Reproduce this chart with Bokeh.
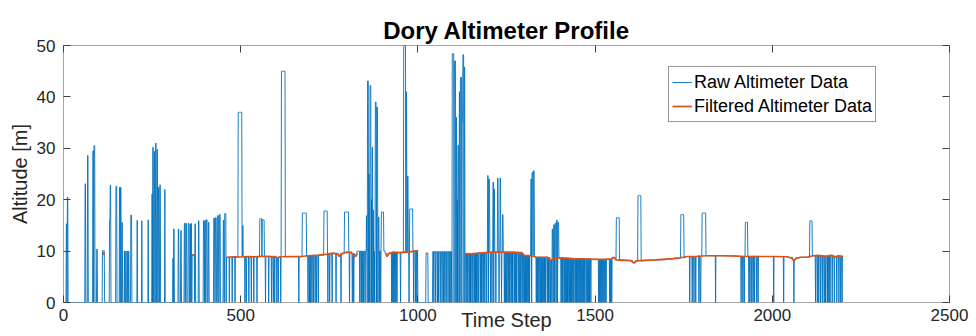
import numpy as np
from bokeh.plotting import figure
from bokeh.models import (Range1d, FixedTicker, LinearAxis, Legend, LegendItem,
                          CustomJSTickFormatter)
from bokeh.embed import file_html
from bokeh.resources import INLINE

FONT = "Liberation Sans"

title = "Dory Altimeter Profile"
x_label = "Time Step"
y_label = "Altitude [m]"
series_names = ["Raw Altimeter Data", "Filtered Altimeter Data"]
x_ticks = [0, 500, 1000, 1500, 2000, 2500]
y_ticks = [0, 10, 20, 30, 40, 50]
n_steps = 2201

# raw altimeter: valid-return level (piecewise)
base_step = [0, 460, 500, 560, 600, 612, 690, 720, 740, 760,
             776, 782, 800, 815, 822, 828, 908, 920, 985, 1000,
             1023, 1029, 1042, 1096, 1170, 1190, 1210, 1295, 1298, 1330,
             1372, 1380, 1440, 1490, 1548, 1556, 1590, 1606, 1614, 1640,
             1670, 1700, 1720, 1741, 1755, 1790, 1810, 1900, 1960, 2045,
             2058, 2066, 2080, 2110, 2150, 2165, 2175, 2185, 2195]
base_alt = [0, 8.8, 8.9, 9.0, 8.8, 8.9, 9.1, 9.2, 9.4, 9.6,
            9.0, 9.5, 9.8, 9.5, 9.0, 10.0, 9.5, 9.7, 10.0, 0,
            9.6, 0, 9.9, 9.5, 9.6, 9.7, 9.8, 9.6, 9.15, 8.85,
            8.3, 8.6, 8.5, 8.4, 8.7, 8.3, 8.2, 7.8, 8.1, 8.2,
            8.3, 8.45, 8.6, 8.7, 8.95, 9.05, 9.1, 9.0, 8.95, 8.8,
            8.3, 8.7, 8.8, 9.1, 9.0, 9.2, 8.9, 9.1, 9.0]

# raw altimeter: spurious returns (start step, length in steps, altitude)
pulse_start = [8, 11, 61, 68, 83, 86, 94, 110, 130, 132,
               148, 158, 161, 165, 172, 176, 180, 184, 190, 208,
               221, 239, 250, 252, 256, 260, 264, 268, 272, 286,
               309, 311, 324, 331, 341, 345, 352, 357, 360, 363,
               371, 381, 395, 399, 403, 409, 424, 429, 435, 440,
               451, 455, 493, 506, 554, 561, 615, 674, 735, 793,
               855, 858, 862, 865, 869, 871, 874, 880, 884, 889,
               897, 960, 967, 971, 977, 1097, 1103, 1108, 1111, 1113,
               1117, 1120, 1125, 1127, 1131, 1197, 1200, 1212, 1215, 1225,
               1232, 1239, 1319, 1322, 1326, 1379, 1383, 1387, 1391, 1395,
               1560, 1621, 1742, 1802, 1924, 2106]
pulse_len = [2, 2, 2, 2, 2, 3, 2, 6, 2, 2,
             3, 2, 2, 2, 1, 1, 1, 1, 3, 1,
             1, 1, 1, 2, 2, 2, 2, 2, 2, 1,
             1, 2, 2, 2, 2, 3, 3, 2, 2, 7,
             2, 2, 3, 2, 3, 2, 3, 3, 3, 3,
             2, 4, 11, 1, 6, 6, 11, 12, 10, 12,
             1, 3, 1, 3, 1, 2, 1, 3, 3, 2,
             7, 6, 2, 2, 9, 5, 4, 2, 1, 3,
             2, 4, 2, 4, 2, 2, 3, 2, 2, 2,
             2, 2, 2, 3, 3, 2, 3, 3, 3, 3,
             9, 9, 9, 11, 7, 7]
pulse_alt = [15.3, 20.5, 23.1, 28.6, 29.5, 30.5, 10.4, 10.1, 16.0, 22.8,
             22.6, 22.4, 22.4, 15.6, 10.0, 10.0, 10.0, 10.0, 17.0, 16.0,
             15.9, 16.1, 21.1, 30.2, 29.4, 31.0, 29.8, 22.4, 22.9, 22.0,
             8.6, 14.3, 14.3, 14.0, 15.4, 15.4, 15.4, 15.2, 15.4, 9.3,
             15.3, 15.9, 15.9, 16.0, 16.1, 15.6, 16.4, 16.5, 16.9, 17.1,
             16.0, 17.3, 37.0, 15.0, 16.3, 16.1, 45.0, 17.4, 17.8, 17.6,
             16.9, 43.1, 25.0, 42.2, 20.0, 30.2, 18.0, 39.0, 38.0, 16.6,
             17.6, 50.0, 41.0, 24.6, 18.2, 48.4, 47.0, 36.0, 20.0, 30.6,
             41.0, 43.8, 35.0, 48.2, 45.8, 24.7, 24.0, 23.4, 22.1, 24.2,
             24.2, 17.1, 24.0, 25.3, 25.6, 14.3, 15.1, 15.4, 16.0, 15.6,
             16.5, 20.8, 17.1, 17.4, 15.6, 15.9]

# raw altimeter: dropouts to zero (step)
drop_step = [468, 476, 484, 512, 516, 523, 530, 537, 546, 570, 579, 587, 592, 596,
             602, 606, 613, 664,
             690, 694, 697, 701, 705, 710, 714, 719, 746, 751, 758, 769, 783, 807,
             815, 819, 836, 840, 843, 847, 851, 857, 861, 864, 868, 870, 873, 876,
             878, 883, 887, 891, 895, 926, 929, 932, 935, 938, 941, 951, 975, 988,
             993, 997, 1045, 1050, 1055, 1058, 1063, 1068, 1072, 1076, 1080, 1085,
             1089, 1093, 1096, 1102, 1107, 1110, 1112, 1116, 1119, 1124, 1130, 1133,
             1138, 1141, 1145, 1148, 1150, 1155, 1159, 1162, 1165, 1167, 1171, 1176,
             1179, 1181, 1186, 1189,
             1194, 1199, 1205, 1209, 1214, 1220, 1229, 1236, 1244, 1247, 1250, 1254,
             1257, 1259, 1263, 1266, 1268, 1273, 1276, 1278, 1283, 1287, 1290, 1294,
             1297, 1301, 1304, 1306, 1310, 1313, 1315, 1321,
             1334, 1337, 1339, 1342, 1346, 1349, 1351, 1355, 1358, 1360, 1365, 1368,
             1370, 1374, 1378, 1382,
             1386, 1390, 1394, 1404, 1407, 1409, 1413, 1416, 1419, 1422, 1424, 1428,
             1431, 1433, 1437, 1440, 1444, 1447,
             1449, 1452, 1455, 1458, 1461, 1465, 1468, 1471, 1475, 1479, 1482, 1484,
             1488, 1510, 1513, 1516, 1519, 1522, 1525,
             1528, 1531, 1541, 1544, 1547, 1767, 1774, 1779, 1784, 1793, 1797, 1798, 1840,
             1912, 1917, 1921, 1934, 1937, 1942, 1946, 1950, 1956, 1960, 2004, 2032,
             2061, 2122, 2127, 2131, 2136, 2141, 2146, 2147, 2150, 2155, 2157, 2160,
             2163, 2169, 2175, 2182, 2188, 2193, 2197]

nan = float("nan")
filt_step = [112, 115, nan,
             363, 369, nan,
             462, 480, 500, 520, 540, 560, 580, 595, 604, 612,
             640, 670, 690, 720, 740, 760, 775, 778, 782, 800,
             812, 822, 826, 830, nan,
             909, 913, 918, 930, 950, 960, 975, 988, 1001, nan,
             1024, 1027, nan,
             1134, 1150, 1170, 1190, 1210, 1240, 1270, 1295, 1300, 1320,
             1333, 1366, 1375, 1380, 1400, 1420, 1440, 1470, 1500, 1530,
             1545, 1553, 1560, 1580, 1600, 1610, 1616, 1640, 1670, 1700,
             1720, 1741, 1760, 1785, 1800, 1815, 1860, 1910, 1960, 2000,
             2040, 2055, 2061, 2068, 2080, 2100, 2115, 2130, 2150, 2165,
             2175, 2185, 2195, 2200]
filt_alt = [9.8, 9.2, nan,
            9.3, 9.2, nan,
            8.8, 8.9, 8.85, 8.95, 8.9, 9.0, 8.95, 8.9, 8.7, 8.9,
            8.95, 8.95, 9.1, 9.2, 9.35, 9.6, 9.3, 8.95, 9.4, 9.8,
            9.7, 8.9, 9.3, 9.5, nan,
            9.5, 8.95, 9.5, 9.8, 9.7, 9.8, 9.8, 10.0, 10.1, nan,
            9.6, 9.5, nan,
            9.5, 9.45, 9.6, 9.7, 9.8, 9.8, 9.8, 9.6, 9.15, 9.1,
            8.85, 8.8, 8.2, 8.5, 8.7, 8.65, 8.5, 8.5, 8.4, 8.4,
            8.5, 8.8, 8.3, 8.2, 8.15, 7.65, 8.1, 8.2, 8.3, 8.45,
            8.55, 8.7, 8.95, 8.95, 9.05, 9.1, 9.1, 9.0, 8.95, 8.95,
            8.9, 8.6, 8.2, 8.6, 8.8, 8.85, 9.1, 9.15, 9.0, 9.2,
            8.8, 9.1, 9.0, 8.9]

# assemble raw series from the read values
steps = np.arange(n_steps)
idx = np.searchsorted(np.array(base_step), steps, side="right") - 1
raw = np.array(base_alt, dtype=float)[idx]
for s, n, a in zip(pulse_start, pulse_len, pulse_alt):
    raw[s:s + n] = a
for s in drop_step:
    raw[s] = 0.0

p = figure(width=976, height=336, output_backend="svg", toolbar_location=None,
           x_range=Range1d(0, 2500), y_range=Range1d(0, 50),
           min_border_left=63, min_border_right=27, min_border_top=45, min_border_bottom=34,
           background_fill_color="white", border_fill_color="white")

r_raw = p.line(steps, raw, color="#0072BD", line_width=0.9)
r_filt = p.line(filt_step, filt_alt, color="#D95319", line_width=1.7)

p.xgrid.visible = False
p.ygrid.visible = False
p.outline_line_color = "#a6a6a6"
p.outline_line_width = 1

def style_axis(ax, ticks):
    ax.ticker = FixedTicker(ticks=ticks)
    ax.axis_line_color = None
    ax.major_tick_in = 7
    ax.major_tick_out = 0
    ax.major_tick_line_color = "#404040"
    ax.major_tick_line_width = 1
    ax.minor_tick_line_color = None
    ax.major_label_text_font = FONT
    ax.major_label_text_font_size = "17px"
    ax.major_label_text_color = "#262626"

xa = p.xaxis[0]
ya = p.yaxis[0]
style_axis(xa, x_ticks)
style_axis(ya, y_ticks)
xa.major_label_standoff = 6
xa.axis_label = x_label
xa.axis_label_text_font = FONT
xa.axis_label_text_font_size = "20px"
xa.axis_label_text_font_style = "normal"
xa.axis_label_text_color = "#262626"
xa.axis_label_standoff = -15
ya.major_label_standoff = 8
ya.axis_label = y_label
ya.axis_label_text_font = FONT
ya.axis_label_text_font_size = "20px"
ya.axis_label_text_font_style = "normal"
ya.axis_label_text_color = "#262626"
ya.axis_label_standoff = 3

blank = CustomJSTickFormatter(code="return ''")
top_ax = LinearAxis(formatter=blank)
style_axis(top_ax, x_ticks)
top_ax.major_label_standoff = 0
top_ax.major_label_text_font_size = "1px"
p.add_layout(top_ax, "above")
right_ax = LinearAxis(formatter=blank)
style_axis(right_ax, y_ticks)
right_ax.major_label_standoff = 0
right_ax.major_label_text_font_size = "1px"
p.add_layout(right_ax, "right")

p.title.text = title
p.title.align = "center"
p.title.text_font = FONT
p.title.text_font_size = "24px"
p.title.text_font_style = "bold"
p.title.text_color = "#000000"
p.title.standoff = 4

legend = Legend(items=[LegendItem(label=series_names[0], renderers=[r_raw]),
                       LegendItem(label=series_names[1], renderers=[r_filt])],
                location=(605, 180), orientation="vertical",
                border_line_color="#333333", border_line_width=1,
                background_fill_color="white", background_fill_alpha=1.0,
                label_text_font=FONT, label_text_font_size="18px", label_text_color="#000000",
                glyph_width=20, glyph_height=24, label_height=24, label_standoff=2,
                padding=3, spacing=0, margin=0)
p.add_layout(legend)

open("out.html", "w").write(file_html(p, INLINE))
